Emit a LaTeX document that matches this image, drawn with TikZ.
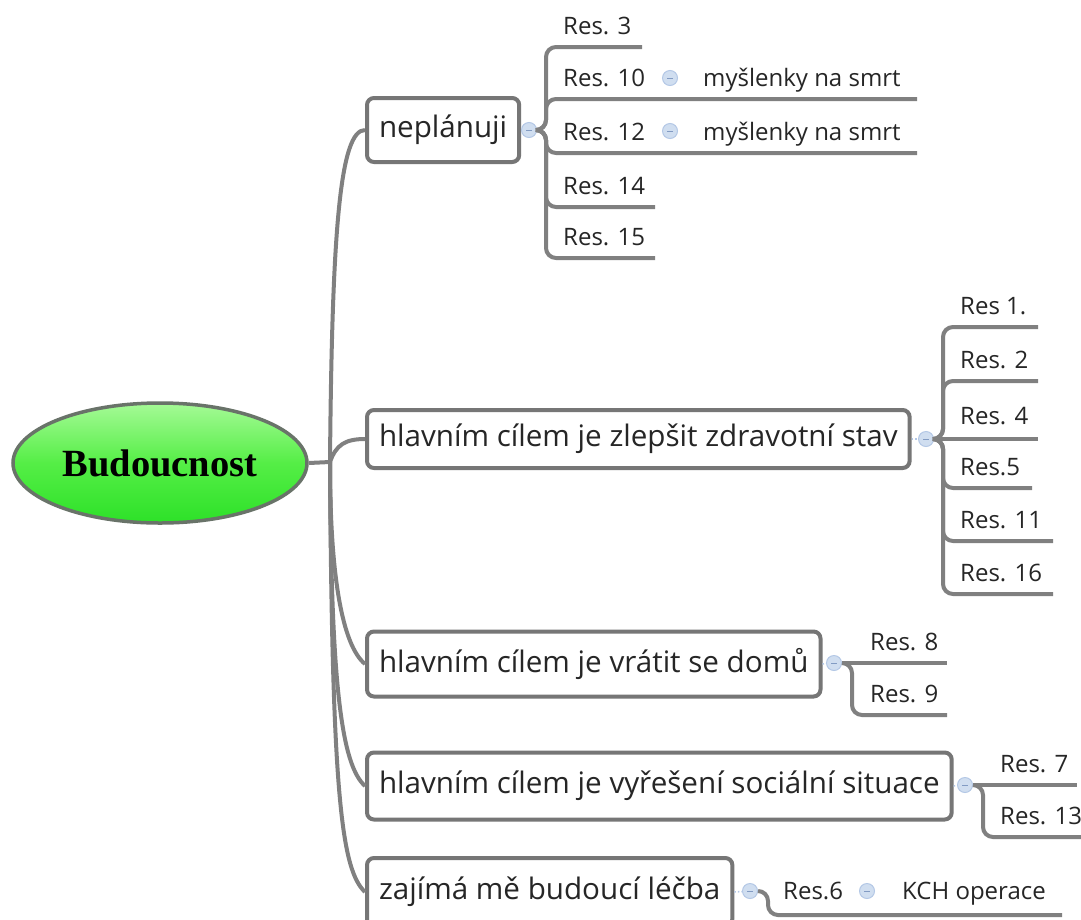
\documentclass[tikz,border=0pt]{standalone}
\usepackage{fontspec}
\setmainfont{Open Sans}
\newfontfamily\rootfont{Liberation Serif}
\usetikzlibrary{shapes.geometric}

\definecolor{linegray}{RGB}{128,128,128}
\definecolor{boxgray}{RGB}{118,118,118}
\definecolor{txt}{RGB}{38,38,38}
\definecolor{knobfill}{RGB}{208,222,240}
\definecolor{knobline}{RGB}{180,200,230}
\definecolor{knobdash}{RGB}{130,155,195}
\definecolor{greentop}{RGB}{165,250,150}
\definecolor{greenmid}{RGB}{85,238,70}
\definecolor{greenbot}{RGB}{45,225,40}
\definecolor{rootline}{RGB}{105,115,105}

\begin{document}
\begin{tikzpicture}[x=1pt,y=-1pt,
  branch/.style={draw=linegray, line width=4pt},
  sub/.style={draw=linegray, line width=4pt, rounded corners=10pt},
  topic/.style={draw=boxgray, line width=4pt, rounded corners=7pt, fill=white,
    anchor=west, inner xsep=12pt, inner ysep=0pt, text=txt,
    font=\fontsize{29.6}{34}\selectfont},
  lbl/.style={anchor=base west, inner sep=0pt, text=txt,
    font=\fontsize{24}{28}\selectfont},
  knob/.style={circle, fill=knobfill, draw=knobline, line width=1pt,
    minimum size=15pt, inner sep=0pt,
    path picture={\draw[knobdash, line width=1pt]
      ([xshift=-3pt]path picture bounding box.center) --
      ([xshift=3pt]path picture bounding box.center);}},
  link/.style={draw=knobline, line width=1.5pt, dotted}
]
\fill[white] (0,0) rectangle (1081,919);
\useasboundingbox (0,0) rectangle (1081,919);

% central topic
\node[ellipse, draw=rootline, line width=3.5pt,
  top color=greentop, bottom color=greenbot, middle color=greenmid,
  minimum width=294pt, minimum height=120pt, inner sep=0pt,
  font=\rootfont\bfseries\fontsize{38.5}{40}\selectfont] (root) at (160,463) {Budoucnost};

% main topics
\node[topic, minimum height=64pt] (b1) at (365,130) {neplánuji};
\node[topic, minimum height=58pt] (b2) at (365,439) {hlavním cílem je zlepšit zdravotní stav};
\node[topic, minimum height=65pt] (b3) at (365,664) {hlavním cílem je vrátit se domů};
\node[topic, minimum height=67pt] (b4) at (365,786) {hlavním cílem je vyřešení sociální situace};
\node[topic, minimum height=68pt] (b5) at (365,892) {zajímá mě budoucí léčba};

% trunk from the central topic
\coordinate (hub) at (330,462);
\draw[branch] (root.east) -- (hub);
\draw[branch] (hub) .. controls (332,230) and (340,130) .. (b1.west);
\draw[branch] (hub) .. controls (336,445) and (345,439) .. (b2.west);
\draw[branch] (hub) .. controls (330,575) and (342,645) .. (b3.west);
\draw[branch] (hub) .. controls (331,690) and (342,765) .. (b4.west);
\draw[branch] (hub) .. controls (332,800) and (342,870) .. (b5.west);

% collapse knobs
\node[knob] (c1) at (529,130) {};
\node[knob] (c2) at (926,439) {};
\node[knob] (c3) at (834,663) {};
\node[knob] (c4) at (965,785) {};
\node[knob] (c5) at (750,891) {};
\draw[link] (b1.east) -- (c1);
\draw[link] (b2.east) -- (c2);
\draw[link] (b3.east) -- (c3);
\draw[link] (b4.east) -- (c4);
\draw[link] (b5.east) -- (c5);

% --- neplánuji
\coordinate (e3) at (642,47);
\coordinate (e10) at (917,99);
\coordinate (e12) at (917,153);
\coordinate (e14) at (655,207);
\coordinate (e15) at (655,258);
\foreach \e in {e3,e10,e12,e14,e15}
  \draw[sub] (c1.east) -- ++(9,0) |- (\e);
\node[lbl] (r3) at (563,34) {Res. 3};
\node[lbl] (r10) at (563,86) {Res. 10};
\node[knob] (k10) at (670,78) {};
\node[lbl] (m10) at (703,86) {myšlenky na smrt};
\node[lbl] (r12) at (563,140) {Res. 12};
\node[knob] (k12) at (670,131) {};
\node[lbl] (m12) at (703,140) {myšlenky na smrt};
\node[lbl] (r14) at (563,194) {Res. 14};
\node[lbl] (r15) at (563,245) {Res. 15};

% --- zdravotní stav
\coordinate (e1) at (1038,327);
\coordinate (e2) at (1038,381);
\coordinate (e4) at (1038,439);
\coordinate (e5) at (1032,488);
\coordinate (e11) at (1053,541);
\coordinate (e16) at (1053,594);
\foreach \e in {e1,e2,e5,e11,e16}
  \draw[sub] (c2.east) -- ++(9,0) |- (\e);
\draw[branch] (c2.east) -- (e4);
\node[lbl] (r1) at (960,314) {Res 1.};
\node[lbl] (r2) at (960,368) {Res. 2};
\node[lbl] (r4) at (960,424) {Res. 4};
\node[lbl] (r5) at (960,475) {Res.5};
\node[lbl] (r11) at (960,528) {Res. 11};
\node[lbl] (r16) at (960,581) {Res. 16};

% --- vrátit se domů
\coordinate (e8) at (947,663);
\coordinate (e9) at (947,715);
\draw[branch] (c3.east) -- (e8);
\draw[sub] (c3.east) -- ++(10,0) |- (e9);
\node[lbl] (r8) at (870,650) {Res. 8};
\node[lbl] (r9) at (870,702) {Res. 9};

% --- sociální situace
\coordinate (e7) at (1077,785);
\coordinate (e13) at (1083,837);
\draw[branch] (c4.east) -- (e7);
\draw[sub] (c4.east) -- ++(10,0) |- (e13);
\node[lbl] (r7) at (1000,772) {Res. 7};
\node[lbl] (r13) at (1000,824) {Res. 13};

% --- budoucí léčba
\coordinate (e6) at (1062,915);
\draw[sub] (c5.east) -- ++(10,0) |- (e6);
\node[lbl] (r6) at (783,899) {Res.6};
\node[knob] (k6) at (867,891) {};
\node[lbl] (kch) at (902,899) {KCH operace};
\end{tikzpicture}
\end{document}
